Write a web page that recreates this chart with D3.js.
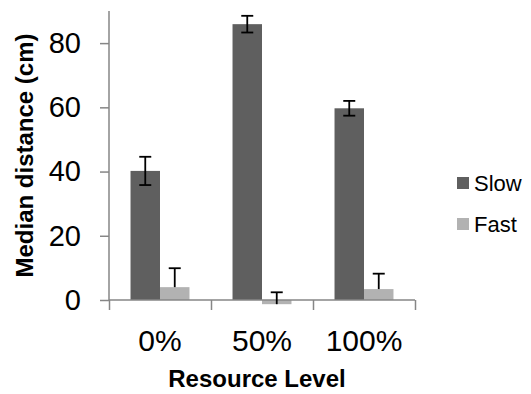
<!DOCTYPE html>
<html>
<head>
<meta charset="utf-8">
<script src="https://cdn.jsdelivr.net/npm/d3@7"></script>
<style>
  body { margin: 0; background: #fff; }
  text { font-family: "Liberation Sans", Arial, sans-serif; fill: #000; }
</style>
</head>
<body>
<svg id="chart" width="531" height="394"></svg>
<script>
// values
let categories = ["0%", "50%", "100%"];
let seriesNames = ["Slow", "Fast"];
let slowValues = [40.2, 85.9, 59.7];
let slowErr = [4.4, 2.6, 2.3]; // both directions
let fastValues = [4.0, -1.3, 3.4];
let fastErr = [5.9, 3.7, 4.8]; // plus direction only
let yTicks = [0, 20, 40, 60, 80];

let colors = { Slow: "#5f5f5f", Fast: "#b2b2b2" };
let axisColor = "#868686";

let plot = { left: 109, right: 415, top: 11, bottom: 300 };

let svg = d3.select("#chart");

let x = d3.scaleBand().domain(categories).range([plot.left, plot.right]);
let x1 = d3
  .scaleBand()
  .domain(seriesNames)
  .range([0, x.bandwidth()])
  .paddingOuter(0.73);
let y = d3.scaleLinear().domain([0, 90]).range([plot.bottom, plot.top]);

let rows = [];
categories.forEach((c, i) => {
  rows.push({ cat: c, name: "Slow", v: slowValues[i], err: slowErr[i], both: true });
  rows.push({ cat: c, name: "Fast", v: fastValues[i], err: fastErr[i], both: false });
});

// bars
svg
  .append("g")
  .selectAll("rect")
  .data(rows)
  .join("rect")
  .attr("x", (d) => x(d.cat) + x1(d.name))
  .attr("width", x1.bandwidth())
  .attr("y", (d) => y(Math.max(0, d.v)))
  .attr("height", (d) => Math.abs(y(d.v) - y(0)))
  .attr("fill", (d) => colors[d.name]);

// y axis
let yAxis = svg
  .append("g")
  .attr("transform", "translate(" + plot.left + ",0)")
  .call(d3.axisLeft(y).tickValues(yTicks).tickSize(9).tickPadding(19).tickFormat(d3.format("d")));
yAxis.select(".domain").attr("stroke", axisColor).attr("stroke-width", 1.5)
  .attr("d", "M0," + plot.top + "V" + plot.bottom);
yAxis.selectAll(".tick line").attr("stroke", axisColor).attr("stroke-width", 1.5);
yAxis.selectAll(".tick text")
  .attr("font-size", "29px")
  .attr("font-family", "Liberation Sans, Arial, sans-serif")
  .attr("fill", "#000");

// x axis with ticks between categories
let xEdges = d3.scaleLinear().domain([0, categories.length]).range([plot.left, plot.right]);
let xAxis = svg
  .append("g")
  .attr("transform", "translate(0," + plot.bottom + ")")
  .call(d3.axisBottom(xEdges).tickValues(d3.range(categories.length + 1)).tickSize(10).tickFormat(""));
xAxis.select(".domain").attr("stroke", axisColor).attr("stroke-width", 1.5)
  .attr("d", "M" + plot.left + ",0H" + plot.right);
xAxis.selectAll(".tick line").attr("stroke", axisColor).attr("stroke-width", 1.5);

// category labels
svg
  .append("g")
  .selectAll("text")
  .data(categories)
  .join("text")
  .attr("x", (d) => x(d) + x.bandwidth() / 2)
  .attr("y", 351)
  .attr("text-anchor", "middle")
  .attr("font-size", "30px")
  .text((d) => d);

// error bars
let eb = svg.append("g").attr("stroke", "#000").attr("stroke-width", 1.8);
rows.forEach((d) => {
  let cx = x(d.cat) + x1(d.name) + x1.bandwidth() / 2;
  let hi = y(d.v + d.err);
  let lo = d.both ? y(d.v - d.err) : y(d.v);
  eb.append("line").attr("x1", cx).attr("x2", cx).attr("y1", hi).attr("y2", lo);
  eb.append("line").attr("x1", cx - 6).attr("x2", cx + 6).attr("y1", hi).attr("y2", hi);
  if (d.both)
    eb.append("line").attr("x1", cx - 6).attr("x2", cx + 6).attr("y1", lo).attr("y2", lo);
});

// axis titles
svg
  .append("text")
  .attr("transform", "translate(33," + (plot.top + 144.5) + ") rotate(-90)")
  .attr("text-anchor", "middle")
  .attr("font-size", "24px")
  .attr("font-weight", "bold")
  .text("Median distance (cm)");
svg
  .append("text")
  .attr("x", 257)
  .attr("y", 387)
  .attr("text-anchor", "middle")
  .attr("font-size", "24px")
  .attr("font-weight", "bold")
  .text("Resource Level");

// legend
let legend = svg
  .append("g")
  .selectAll("g")
  .data(seriesNames)
  .join("g")
  .attr("transform", (d, i) => "translate(457," + (177 + i * 41) + ")");
legend.append("rect").attr("width", 12).attr("height", 12).attr("fill", (d) => colors[d]);
legend
  .append("text")
  .attr("x", 17)
  .attr("y", 14)
  .attr("font-size", "22px")
  .text((d) => d);
</script>
</body>
</html>
